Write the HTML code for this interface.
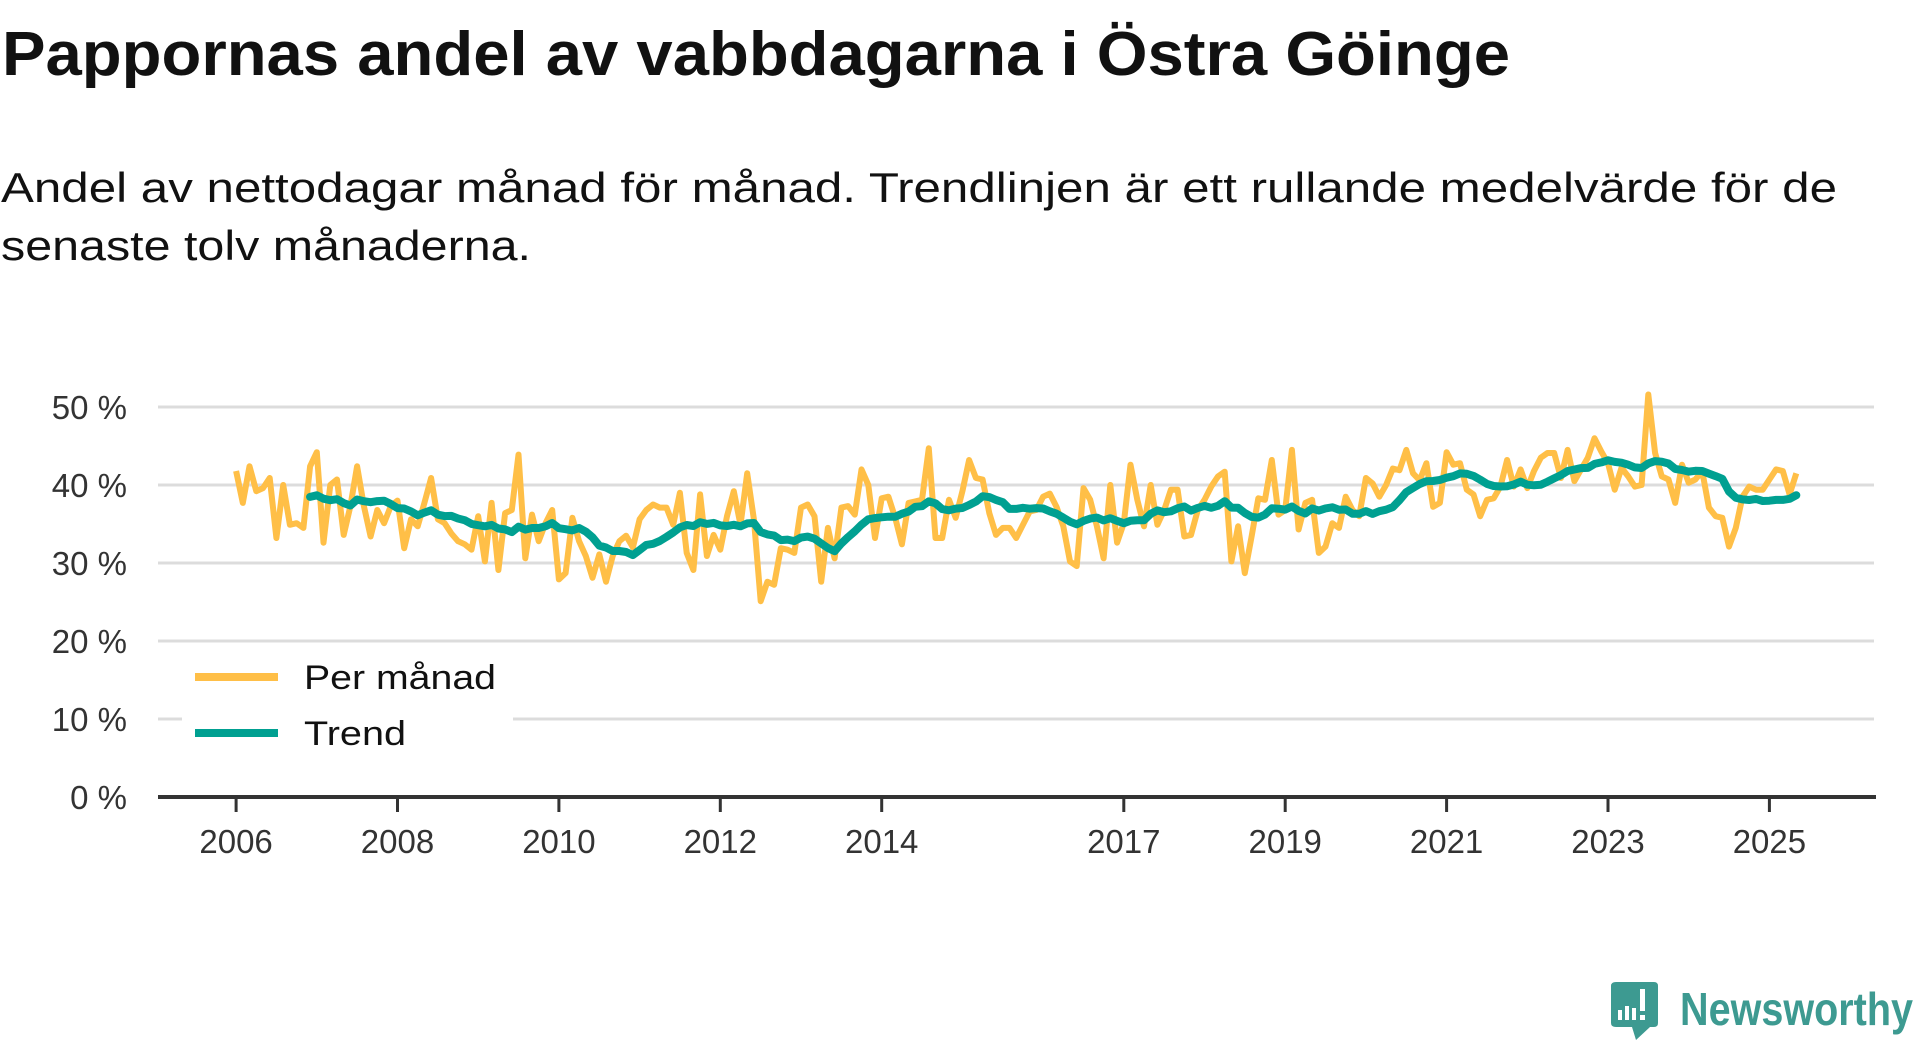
<!DOCTYPE html>
<html><head><meta charset="utf-8">
<style>
html,body{margin:0;padding:0;background:#fff;}
body{width:1920px;height:1040px;overflow:hidden;font-family:"Liberation Sans",sans-serif;}
svg{display:block}
</style></head>
<body>
<svg id="chart" width="1920" height="1040" viewBox="0 0 1920 1040" xmlns="http://www.w3.org/2000/svg">
  <text x="2" y="75" font-family="Liberation Sans, sans-serif" font-weight="bold" font-size="62" fill="#111" textLength="1508" lengthAdjust="spacingAndGlyphs">Pappornas andel av vabbdagarna i Östra Göinge</text>
  <text x="1" y="202" font-family="Liberation Sans, sans-serif" font-size="42" fill="#111" textLength="1836" lengthAdjust="spacingAndGlyphs">Andel av nettodagar månad för månad. Trendlinjen är ett rullande medelvärde för de</text>
  <text x="1" y="260" font-family="Liberation Sans, sans-serif" font-size="42" fill="#111" textLength="530" lengthAdjust="spacingAndGlyphs">senaste tolv månaderna.</text>
  <g id="grid"></g>
  <g id="yaxis"></g>
  <g id="xaxis"></g>
  <g id="series"></g>
  <g id="legend">
    <rect x="182" y="650" width="331" height="110" fill="#fff"/>
    <line x1="195" y1="677" x2="278" y2="677" stroke="#ffbf47" stroke-width="8"/>
    <text x="304" y="689" font-family="Liberation Sans, sans-serif" font-size="34" fill="#111" textLength="192" lengthAdjust="spacingAndGlyphs">Per månad</text>
    <line x1="195" y1="733" x2="278" y2="733" stroke="#00a091" stroke-width="8"/>
    <text x="304" y="745" font-family="Liberation Sans, sans-serif" font-size="34" fill="#111" textLength="102" lengthAdjust="spacingAndGlyphs">Trend</text>
  </g>
  <g>
    <path d="M1616 982 H1654 Q1658 982 1658 986 V1023 Q1658 1027 1654 1027 H1650 L1636 1040 L1632 1027 H1616 Q1611 1027 1611 1023 V986 Q1611 982 1616 982 Z" fill="#3d9a91"/>
    <rect x="1618" y="1010" width="4" height="10" fill="#fff"/>
    <rect x="1625" y="1006" width="4" height="14" fill="#fff"/>
    <rect x="1632" y="1008" width="4" height="12" fill="#fff"/>
    <rect x="1640" y="989" width="5" height="22" fill="#fff"/>
    <rect x="1640" y="1015" width="5" height="5" fill="#fff"/>
    <text x="1680" y="1025" font-family="Liberation Sans, sans-serif" font-weight="bold" font-size="46" fill="#3d9a91" textLength="233" lengthAdjust="spacingAndGlyphs">Newsworthy</text>
  </g>
</svg>
<script>
const yTicks = [0, 10, 20, 30, 40, 50];
const yTickLabels = ["0 %", "10 %", "20 %", "30 %", "40 %", "50 %"];
const xTickYears = [2006, 2008, 2010, 2012, 2014, 2017, 2019, 2021, 2023, 2025];
const startYear = 2006;
const perMonth = [
41.8,37.7,42.4,39.2,39.6,40.9,33.2,40.0,34.9,35.1,34.5,42.4,
44.2,32.6,40.0,40.7,33.6,37.3,42.4,37.3,33.4,36.8,35.1,37.3,
38.0,31.9,35.6,34.7,37.7,40.9,35.6,35.1,33.8,32.8,32.4,31.7,
36.0,30.2,37.7,29.1,36.4,36.8,43.9,30.6,36.2,32.8,35.1,36.8,
27.9,28.7,35.8,32.8,30.9,28.1,31.1,27.6,30.9,32.8,33.5,32.0,
35.6,36.8,37.5,37.1,37.1,34.9,39.0,31.3,29.1,38.8,30.9,33.6,
31.7,36.0,39.2,34.9,41.5,35.6,25.1,27.6,27.2,31.9,31.7,31.3,
37.1,37.5,36.0,27.6,34.5,30.6,37.1,37.3,36.2,42.0,40.0,33.2,
38.3,38.5,35.8,32.4,37.7,37.9,38.1,44.7,33.2,33.2,38.1,35.8,
39.2,43.2,40.9,40.7,36.4,33.6,34.5,34.5,33.2,34.9,36.6,36.8,
38.5,38.9,37.2,34.7,30.2,29.6,39.6,38.1,34.7,30.6,40.0,32.6,
35.1,42.6,38.1,34.7,40.0,34.9,36.8,39.4,39.4,33.4,33.6,36.8,
38.1,39.8,41.1,41.7,30.2,34.7,28.7,33.4,38.3,38.1,43.2,36.2,
36.8,44.5,34.3,37.7,38.1,31.3,32.1,35.1,34.5,38.5,36.8,36.0,
40.9,40.2,38.5,40.0,42.1,41.9,44.5,41.5,40.6,42.8,37.2,37.7,
44.2,42.6,42.8,39.4,38.8,36.0,38.1,38.3,39.8,43.2,39.8,42.0,
39.6,41.8,43.5,44.1,44.1,40.9,44.5,40.5,42.0,43.5,46.0,44.3,
42.8,39.4,42.2,41.1,39.8,40.0,51.6,44.1,41.1,40.7,37.7,42.6,
40.3,40.7,41.8,37.1,36.0,35.8,32.1,34.5,38.5,39.8,39.4,39.4,
40.7,42.0,41.8,38.8,41.5
];
const trendWindow = 12;

const X0 = 236.1, PX_PER_YEAR = 80.7, Y0 = 797, PX_PER_PCT = 7.8;
const PLOT_LEFT = 158, PLOT_RIGHT = 1874;
function xMonth(m){ return X0 + m * PX_PER_YEAR / 12; }
function xYear(yr){ return X0 + (yr - startYear) * PX_PER_YEAR; }
function yVal(v){ return Y0 - v * PX_PER_PCT; }
const NS = "http://www.w3.org/2000/svg";
function mk(tag, attrs, parent){
  const el = document.createElementNS(NS, tag);
  for (const k in attrs) el.setAttribute(k, attrs[k]);
  parent.appendChild(el);
  return el;
}
const grid = document.getElementById('grid');
const yaxis = document.getElementById('yaxis');
const xaxis = document.getElementById('xaxis');
const series = document.getElementById('series');

yTicks.forEach((t, i) => {
  if (t !== 0) {
    const g = mk('line', {x1: PLOT_LEFT, x2: PLOT_RIGHT, y1: yVal(t), y2: yVal(t), stroke: '#dcdcdc', 'stroke-width': 3}, grid);
    
    
  }
  const lb = mk('text', {x: 127, y: yVal(t) + 12, 'text-anchor': 'end', 'font-family': 'Liberation Sans, sans-serif', 'font-size': 33, fill: '#333'}, yaxis);
  lb.textContent = yTickLabels[i];
  
  
});

const axis = mk('line', {x1: PLOT_LEFT, x2: PLOT_RIGHT + 2, y1: Y0, y2: Y0, stroke: '#333', 'stroke-width': 4}, xaxis);


xTickYears.forEach(yr => {
  const x = xYear(yr);
  const tk = mk('line', {x1: x, x2: x, y1: Y0, y2: Y0 + 15, stroke: '#333', 'stroke-width': 3}, xaxis);
  
  
  const lb = mk('text', {x: x, y: 853, 'text-anchor': 'middle', 'font-family': 'Liberation Sans, sans-serif', 'font-size': 33, fill: '#333'}, xaxis);
  lb.textContent = String(yr);
  
  
});

const monthPts = perMonth.map((v, m) => xMonth(m).toFixed(1) + ',' + yVal(v).toFixed(1)).join(' ');
const pm = mk('polyline', {points: monthPts, fill: 'none', stroke: '#ffbf47', 'stroke-width': 6, 'stroke-linejoin': 'round'}, series);



const trendPts = [];
for (let m = trendWindow - 1; m < perMonth.length; m++) {
  let s = 0;
  for (let k = m - trendWindow + 1; k <= m; k++) s += perMonth[k];
  trendPts.push(xMonth(m).toFixed(1) + ',' + yVal(s / trendWindow).toFixed(1));
}
const tr = mk('polyline', {points: trendPts.join(' '), fill: 'none', stroke: '#00a091', 'stroke-width': 8, 'stroke-linejoin': 'round', 'stroke-linecap': 'round'}, series);


</script>
</body></html>
